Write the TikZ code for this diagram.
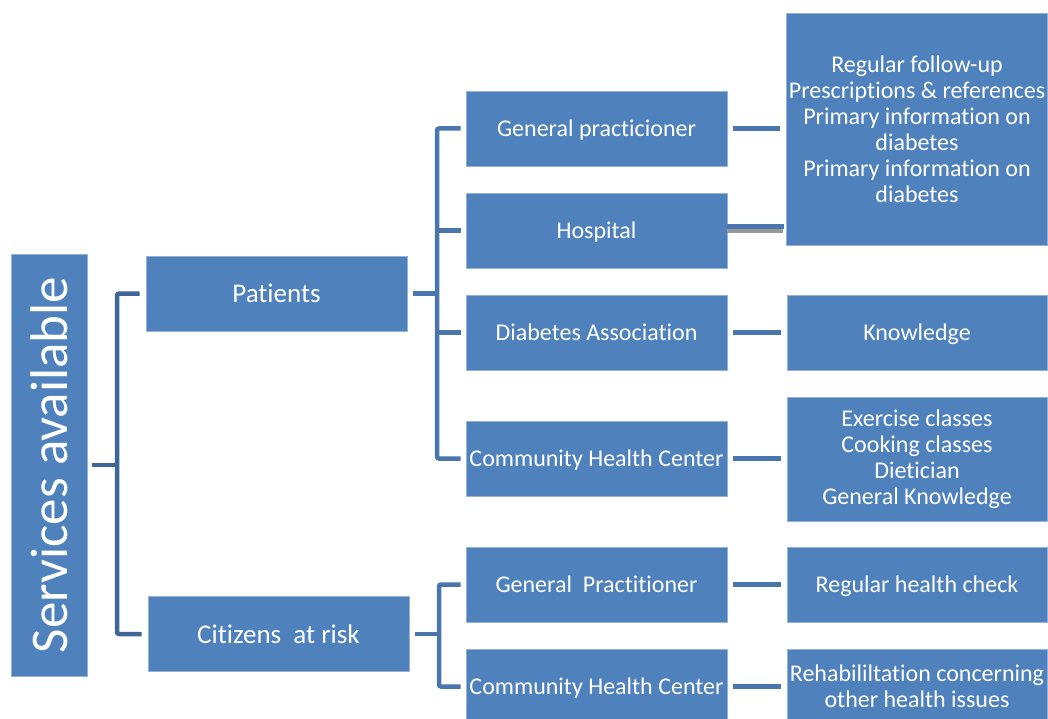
\documentclass[tikz,border=0pt]{standalone}
\usepackage{fontspec}
\setmainfont[Ligatures=NoCommon]{Carlito}
\usetikzlibrary{calc}
\definecolor{boxblue}{HTML}{4F81BD}
\definecolor{lineblue}{HTML}{4A76AE}
\definecolor{darkline}{HTML}{3E6797}
\tikzset{
  box/.style={rectangle, fill=boxblue, draw=boxblue!60!white, line width=0.8pt, text=white,
    align=center, inner sep=2pt, font=\fontsize{24}{26}\selectfont},
  one/.style={box, text depth=0pt},
  bigbox/.style={box, text depth=0pt, font=\fontsize{27}{30}\selectfont},
  conn/.style={draw=lineblue, line width=4.5pt, rounded corners=2pt},
  darkconn/.style={draw=darkline, line width=4.5pt, rounded corners=2pt},
}
\begin{document}
\begin{tikzpicture}[x=1pt,y=-1pt]
\useasboundingbox (0,0) rectangle (1048,719);
% left title
\node[box, minimum width=76pt, minimum height=422pt] (L) at (49,465) {};
\node[text=white, rotate=90, font=\fontsize{53}{58}\selectfont] (Lt) at (L.center) {Services available};
% level 1
\node[bigbox, minimum width=261pt, minimum height=75pt] (P) at (276.5,293.5) {Patients};
\node[bigbox, minimum width=261pt, minimum height=75pt] (C) at (278.5,634) {Citizens\ \ at risk};
% level 2
\node[one, minimum width=261pt, minimum height=75pt] (M1) at (596.5,128.5) {General practicioner};
\node[one, minimum width=261pt, minimum height=75pt] (M2) at (596.5,230.5) {Hospital};
\node[one, minimum width=261pt, minimum height=75pt] (M3) at (596.5,332.5) {Diabetes Association};
\node[one, minimum width=261pt, minimum height=75pt] (M4) at (596.5,458.5) {Community Health Center};
\node[one, minimum width=261pt, minimum height=75pt] (M5) at (596.5,584.5) {General\ \ Practitioner};
\node[one, minimum width=261pt, minimum height=75pt] (M6) at (596.5,686.5) {Community Health Center};
% level 3
\node[box, minimum width=260pt, minimum height=232pt] (R1) at (917,129) {Regular follow-up\\Prescriptions \& references\\Primary information on\\diabetes\\Primary information on\\diabetes};
\node[one, minimum width=260pt, minimum height=75pt] (R3) at (917,332.5) {Knowledge};
\node[box, minimum width=260pt, minimum height=124pt] (R4) at (917,459) {Exercise classes\\Cooking classes\\Dietician\\General Knowledge};
\node[one, minimum width=260pt, minimum height=75pt] (R5) at (917,584.5) {Regular health check};
\node[box, minimum width=260pt, minimum height=75pt] (R6) at (917,686.5) {Rehabililtation concerning\\other health issues};
% junctions
\coordinate (j1) at (117,465);
\coordinate (j2) at (437,293.5);
\coordinate (j3) at (439,634);
% left tree
\draw[darkconn] ([xshift=5pt]L.east) -- (j1);
\draw[darkconn] ([xshift=-6pt]P.west) -| (j1) |- ([xshift=-6pt]C.west);
% patients tree
\draw[conn] ([xshift=6pt]P.east) -- (j2);
\draw[conn] ([xshift=-5pt]M1.west) -| (j2) |- ([xshift=-5pt]M4.west);
\draw[conn] ([xshift=-5pt]M2.west) -- (M2.west -| j2);
\draw[conn] ([xshift=-5pt]M3.west) -- (M3.west -| j2);
% citizens tree
\draw[conn] ([xshift=6pt]C.east) -- (j3);
\draw[conn] ([xshift=-5pt]M5.west) -| (j3) |- ([xshift=-5pt]M6.west);
% right connectors
\draw[conn] ([xshift=6pt]M1.east) -- ($(M1.east -| R1.west)+(-6,0)$);
\draw[draw=gray!80, line width=3.5pt] ($(M2.east)+(0,0.5)$) -- ($(M2.east -| R1.west)+(-3,0.5)$);
\draw[draw=lineblue, line width=5pt] ($(M2.east)+(0,-4)$) -- ($(M2.east -| R1.west)+(-2,-4)$);
\draw[conn] ([xshift=6pt]M3.east) -- ($(M3.east -| R3.west)+(-6,0)$);
\draw[conn] ([xshift=6pt]M4.east) -- ($(M4.east -| R4.west)+(-6,0)$);
\draw[conn] ([xshift=6pt]M5.east) -- ($(M5.east -| R5.west)+(-6,0)$);
\draw[conn] ([xshift=6pt]M6.east) -- ($(M6.east -| R6.west)+(-6,0)$);
\end{tikzpicture}
\end{document}
